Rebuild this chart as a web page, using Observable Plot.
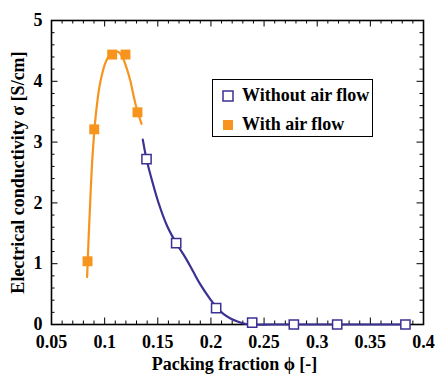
<!DOCTYPE html>
<html>
<head>
<meta charset="utf-8">
<script src="https://cdn.jsdelivr.net/npm/d3@7"></script>
<script src="https://cdn.jsdelivr.net/npm/@observablehq/plot@0.6"></script>
<style>
  html, body { margin: 0; padding: 0; background: #fff; }
  #wrap { position: relative; width: 436px; height: 374px; }
  #legend {
    position: absolute; left: 212px; top: 79px; width: 159px; height: 56px;
    border: 1.5px solid #000; background: #fff;
    font: bold 18px "Liberation Serif", "Times New Roman", serif; color: #000;
  }
  #legend .row { position: absolute; left: 9px; display: flex; align-items: center; white-space: nowrap; }
  #legend .row svg { margin-right: 8px; }
</style>
</head>
<body>
<div id="wrap"></div>
<script>
// ---- data ----
const xTicks = [0.05, 0.1, 0.15, 0.2, 0.25, 0.3, 0.35, 0.4];
const xTickLabels = ["0.05", "0.1", "0.15", "0.2", "0.25", "0.3", "0.35", "0.4"];
const yTicks = [0, 1, 2, 3, 4, 5];
const yTickLabels = ["0", "1", "2", "3", "4", "5"];

const xLabel = "Packing fraction ϕ [-]";
const yLabel = "Electrical conductivity σ [S/cm]";
const seriesNames = ["Without air flow", "With air flow"];

// Without air flow (open squares)
const withoutX = [0.1394, 0.1673, 0.2049, 0.2388, 0.2780, 0.3188, 0.3830];
const withoutY = [2.72, 1.34, 0.27, 0.03, 0.0, 0.0, 0.0];
// fitted curve, without air flow
const withoutFitX = [0.1359, 0.1394, 0.1447, 0.1509, 0.1588, 0.1673, 0.1760, 0.1830, 0.1900, 0.1996, 0.2049, 0.2120, 0.2184, 0.2250, 0.2300, 0.2350, 0.2600, 0.3000, 0.3400, 0.3830];
const withoutFitY = [3.04, 2.72, 2.36, 1.99, 1.62, 1.34, 1.10, 0.88, 0.66, 0.41, 0.29, 0.17, 0.10, 0.05, 0.02, 0.0, 0.0, 0.0, 0.0, 0.0];

// With air flow (filled squares)
const withX = [0.0839, 0.0902, 0.1071, 0.1196, 0.1309];
const withY = [1.04, 3.21, 4.44, 4.44, 3.49];
// fitted curve, with air flow
const withFitX = [0.0835, 0.0850, 0.0865, 0.0880, 0.0895, 0.0910, 0.0930, 0.0950, 0.0975, 0.1000, 0.1030, 0.1060, 0.1090, 0.1120, 0.1150, 0.1175, 0.1210, 0.1243, 0.1270, 0.1300, 0.1347];
const withFitY = [0.78, 1.45, 2.05, 2.60, 3.00, 3.33, 3.65, 3.90, 4.11, 4.27, 4.39, 4.46, 4.49, 4.49, 4.45, 4.37, 4.20, 4.00, 3.78, 3.56, 3.30];

const purple = "#3a3192";
const orange = "#f7941d";

const withoutPts = withoutX.map((x, i) => ({x, y: withoutY[i]}));
const withPts = withX.map((x, i) => ({x, y: withY[i]}));
const withoutFit = withoutFitX.map((x, i) => ({x, y: withoutFitY[i]}));
const withFit = withFitX.map((x, i) => ({x, y: withFitY[i]}));

const xMinor = d3.range(5, 41).map(v => v / 100).filter(v => !xTicks.some(t => Math.abs(t - v) < 1e-9));
const yMinor = d3.range(0, 26).map(v => v / 5).filter(v => !yTicks.some(t => Math.abs(t - v) < 1e-9));

const W = 436, H = 374, mL = 51, mR = 13, mT = 20, mB = 50;
const pw = W - mL - mR, ph = H - mT - mB;
const major = 6.5, minor = 3.5;

const chart = Plot.plot({
  width: W, height: H,
  marginLeft: mL, marginRight: mR, marginTop: mT, marginBottom: mB,
  style: {fontFamily: '"Liberation Serif", "Times New Roman", serif', fontWeight: "bold", fontSize: "18px", color: "#000", background: "#fff", overflow: "visible"},
  x: {domain: [0.05, 0.4], axis: null},
  y: {domain: [0, 5], axis: null},
  marks: [
    // ticks (inward, all four sides)
    Plot.tickX(xTicks, {x: d => d, insetTop: ph - major, stroke: "#000"}),
    Plot.tickX(xTicks, {x: d => d, insetBottom: ph - major, stroke: "#000"}),
    Plot.tickX(xMinor, {x: d => d, insetTop: ph - minor, stroke: "#000"}),
    Plot.tickX(xMinor, {x: d => d, insetBottom: ph - minor, stroke: "#000"}),
    Plot.tickY(yTicks, {y: d => d, insetRight: pw - major, stroke: "#000"}),
    Plot.tickY(yTicks, {y: d => d, insetLeft: pw - major, stroke: "#000"}),
    Plot.tickY(yMinor, {y: d => d, insetRight: pw - minor, stroke: "#000"}),
    Plot.tickY(yMinor, {y: d => d, insetLeft: pw - minor, stroke: "#000"}),
    Plot.frame({stroke: "#000", strokeWidth: 1.6}),
    // tick labels
    Plot.axisX({ticks: xTicks, tickSize: 0, tickPadding: 11, tickFormat: d => xTickLabels[xTicks.indexOf(d)], label: null, fontSize: 18, fontWeight: "bold"}),
    Plot.axisY({ticks: yTicks, tickSize: 0, tickPadding: 9, tickFormat: d => yTickLabels[yTicks.indexOf(d)], label: null, fontSize: 18, fontWeight: "bold"}),
    // axis titles
    Plot.text([xLabel], {text: d => d, frameAnchor: "bottom", lineAnchor: "middle", textAnchor: "middle", dy: 40, dx: -3, fontSize: 18, fontWeight: "bold", fill: "#000"}),
    Plot.text([yLabel], {text: d => d, frameAnchor: "left", lineAnchor: "middle", textAnchor: "middle", rotate: -90, dx: -33, fontSize: 18, fontWeight: "bold", fill: "#000"}),
    // curves
    Plot.line(withFit, {x: "x", y: "y", stroke: orange, strokeWidth: 2.2, curve: "catmull-rom"}),
    Plot.line(withoutFit, {x: "x", y: "y", stroke: purple, strokeWidth: 2.2, curve: "catmull-rom"}),
    // markers
    Plot.dot(withPts, {x: "x", y: "y", symbol: "square", r: 5.6, fill: orange, stroke: null}),
    Plot.dot(withoutPts, {x: "x", y: "y", symbol: "square", r: 5.2, fill: "#fff", stroke: purple, strokeWidth: 1.5})
  ]
});

const wrap = document.getElementById("wrap");
wrap.appendChild(chart);

const legend = document.createElement("div");
legend.id = "legend";
legend.innerHTML =
  `<div class="row" style="top:5px"><svg width="12" height="12"><rect x="1" y="1" width="10" height="10" fill="#fff" stroke="${purple}" stroke-width="1.5"/></svg><span>${seriesNames[0]}</span></div>` +
  `<div class="row" style="top:34px"><svg width="12" height="12"><rect x="1" y="1" width="10" height="10" fill="${orange}"/></svg><span>${seriesNames[1]}</span></div>`;
wrap.appendChild(legend);
</script>
</body>
</html>
